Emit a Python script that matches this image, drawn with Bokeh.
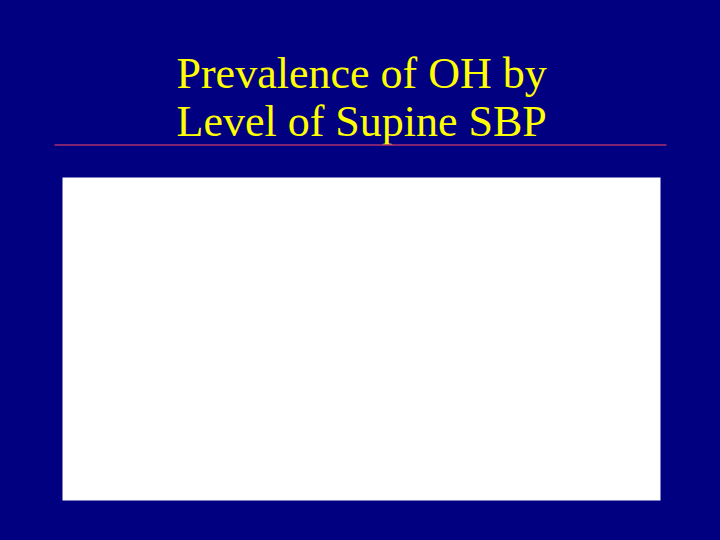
from bokeh.core.properties import value
from bokeh.embed import file_html
from bokeh.models import Range1d
from bokeh.plotting import figure
from bokeh.resources import INLINE

# slide content
title_lines = ["Prevalence of OH by", "Level of Supine SBP"]
title_baselines = [73, 121]  # svg text sits a little below the given y
title_left = [176, 176]

# rule under the title and the (empty) chart panel
rule_x = [54, 666]
rule_y = [144.5, 144.5]
panel_left, panel_right = [62], [660]
panel_top, panel_bottom = [177], [500]

W, H = 720, 540
navy = "#000080"

p = figure(width=W, height=H, output_backend="svg", toolbar_location=None,
           x_range=Range1d(0, W), y_range=Range1d(H, 0),
           background_fill_color=navy, border_fill_color=navy,
           min_border=0, outline_line_color=None)
p.axis.visible = False
p.grid.visible = False

p.text(x=title_left, y=title_baselines, text=title_lines,
       text_font=value("Liberation Serif"), text_font_size="44px",
       text_color="#FFFF00", text_baseline="alphabetic", text_align="left")

p.line(x=rule_x, y=rule_y, line_color="#A8306E", line_width=1.5)

p.quad(left=panel_left, right=panel_right, top=panel_top, bottom=panel_bottom,
       fill_color="white", line_color=None)

html = file_html(p, INLINE)
html = html.replace("<head>", "<head><style>body{margin:0;background:%s;}</style>" % navy, 1)
open("out.html", "w").write(html)
